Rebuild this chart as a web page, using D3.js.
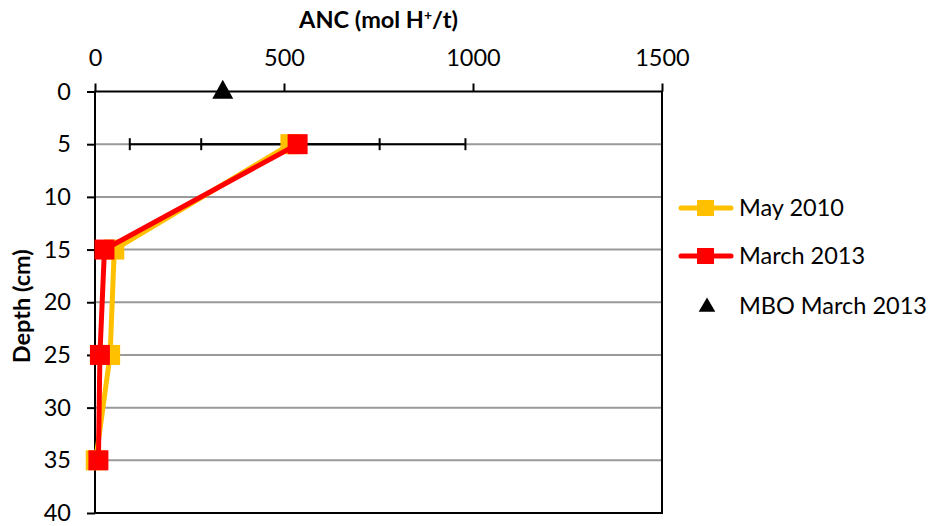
<!DOCTYPE html>
<html>
<head>
<meta charset="utf-8">
<script src="https://cdn.jsdelivr.net/npm/d3@7"></script>
<style>
  html, body { margin: 0; padding: 0; background: #fff; }
  svg { display: block; font-family: Lato, "Open Sans", sans-serif; }
</style>
</head>
<body>
<svg id="chart" width="933" height="526"></svg>
<script>
// Depth profile of acid neutralising capacity
const depths = [5, 15, 25, 35];
const may2010 = [517, 51, 40, 2];
const march2013 = [536, 25, 13, 9];
const may2010Err = [236, null, null, null];
const march2013Err = [444, null, null, null];
const mboDepth = [0];
const mboMarch2013 = [338];
const xTicks = [0, 500, 1000, 1500];
const yTicks = [0, 5, 10, 15, 20, 25, 30, 35, 40];
const seriesNames = ["May 2010", "March 2013", "MBO March 2013"];

const svg = d3.select("#chart");
const x = d3.scaleLinear().domain([0, 1500]).range([95, 662]);
const y = d3.scaleLinear().domain([0, 40]).range([91.5, 513]);

const orange = "#FFC000", red = "#FF0000";
const fs = 23.5;

// horizontal gridlines
svg.append("g").selectAll("line")
  .data(yTicks.filter(t => t > 0 && t < 40))
  .join("line")
  .attr("x1", x(0)).attr("x2", x(1500))
  .attr("y1", d => y(d)).attr("y2", d => y(d))
  .attr("stroke", "#9a9a9a").attr("stroke-width", 2);

// axes
const fmt = d3.format("d");
const xAxis = svg.append("g")
  .attr("transform", `translate(0,${y(0)})`)
  .call(d3.axisTop(x).tickValues(xTicks).tickFormat(fmt).tickSize(8).tickPadding(18));
const yAxis = svg.append("g")
  .attr("transform", `translate(${x(0)},0)`)
  .call(d3.axisLeft(y).tickValues(yTicks).tickFormat(fmt).tickSize(8).tickPadding(16));
[xAxis, yAxis].forEach(g => {
  g.select(".domain").remove();
  g.selectAll(".tick line").attr("stroke", "#000").attr("stroke-width", 2);
  g.selectAll(".tick text").attr("fill", "#000").style("font-size", fs + "px")
    .style("font-family", "Lato, 'Open Sans', sans-serif");
});

// plot frame
svg.append("rect")
  .attr("x", x(0)).attr("y", y(0))
  .attr("width", x(1500) - x(0)).attr("height", y(40) - y(0))
  .attr("fill", "none").attr("stroke", "#000").attr("stroke-width", 2);

// axis titles
const xt = svg.append("text")
  .attr("x", (x(0) + x(1500)) / 2).attr("y", 28)
  .attr("text-anchor", "middle").attr("font-weight", "bold")
  .style("font-size", fs + "px");
xt.append("tspan").text("ANC (mol H");
xt.append("tspan").text("+").attr("baseline-shift", "super").style("font-size", "14px");
xt.append("tspan").text("/t)");

svg.append("text")
  .attr("transform", `translate(30,${(y(0) + y(40)) / 2 + 4}) rotate(-90)`)
  .attr("text-anchor", "middle").attr("font-weight", "bold")
  .style("font-size", fs + "px")
  .text("Depth (cm)");

// error bars
function errorBars(vals, errs) {
  const g = svg.append("g").attr("stroke", "#000").attr("stroke-width", 2);
  depths.forEach((d, i) => {
    if (errs[i] == null) return;
    const lo = x(vals[i] - errs[i]), hi = x(vals[i] + errs[i]), yy = y(d);
    g.append("line").attr("x1", lo).attr("x2", hi).attr("y1", yy).attr("y2", yy);
    [lo, hi].forEach(px => g.append("line")
      .attr("x1", px).attr("x2", px).attr("y1", yy - 6).attr("y2", yy + 6));
  });
}
errorBars(march2013, march2013Err);
errorBars(may2010, may2010Err);

// series lines and square markers
const line = d3.line().x(d => x(d[0])).y(d => y(d[1]));
function series(vals, color) {
  const pts = vals.map((v, i) => [v, depths[i]]);
  svg.append("path").datum(pts).attr("d", line)
    .attr("fill", "none").attr("stroke", color).attr("stroke-width", 5)
    .attr("stroke-linejoin", "round");
  svg.append("g").selectAll("rect").data(pts).join("rect")
    .attr("x", d => x(d[0]) - 10).attr("y", d => y(d[1]) - 10)
    .attr("width", 20).attr("height", 20).attr("fill", color);
}
series(may2010, orange);
series(march2013, red);

// MBO marker
const tri = d3.symbol().type(d3.symbolTriangle).size(190);
svg.append("g").selectAll("path")
  .data(mboMarch2013.map((v, i) => [v, mboDepth[i]]))
  .join("path")
  .attr("d", tri)
  .attr("transform", d => `translate(${x(d[0])},${y(d[1]) + 1}) scale(1,1.05)`)
  .attr("fill", "#000");

// legend
const legY = [208, 256, 306];
const leg = svg.append("g");
[[orange, 0], [red, 1]].forEach(([c, i]) => {
  leg.append("line").attr("x1", 681).attr("x2", 731)
    .attr("y1", legY[i]).attr("y2", legY[i])
    .attr("stroke", c).attr("stroke-width", 5).attr("stroke-linecap", "round");
  leg.append("rect").attr("x", 697).attr("y", legY[i] - 8)
    .attr("width", 17).attr("height", 16).attr("fill", c);
});
leg.append("path")
  .attr("d", d3.symbol().type(d3.symbolTriangle).size(120))
  .attr("transform", `translate(707,${legY[2] + 1})`)
  .attr("fill", "#000");
seriesNames.forEach((n, i) => {
  leg.append("text").attr("x", 739).attr("y", legY[i] + 8)
    .style("font-size", fs + "px").attr("fill", "#000").text(n);
});
</script>
</body>
</html>
